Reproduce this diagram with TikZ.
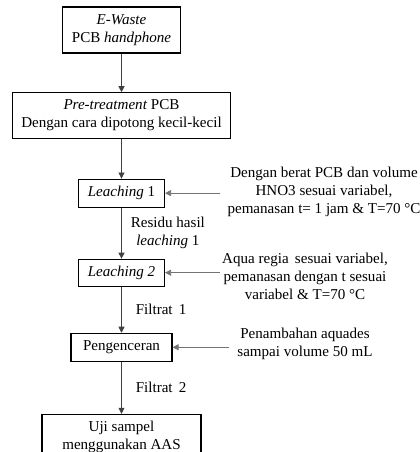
\documentclass[tikz,border=0pt]{standalone}
\usepackage{fontspec}
\setmainfont{Liberation Serif}
\usetikzlibrary{arrows.meta,positioning}

\begin{document}
\begin{tikzpicture}[
  x=0.75pt, y=-0.75pt, >={Triangle[length=4.5pt,width=4.5pt]},
  font=\fontsize{11.3}{13.5}\selectfont,
  box/.style={draw, line width=0.8pt, align=center, inner sep=2pt},
  note/.style={align=center, inner sep=0pt},
  flow/.style={->, draw=black!75, line width=0.5pt},
  feed/.style={->, draw=black!55, line width=0.5pt},
  lbl/.style={right, align=center, inner sep=0pt},
]
\useasboundingbox (0,0) rectangle (419,452);
% main chain
\node[box, minimum width=89pt, minimum height=34.5pt] (ewaste) at (121.5,30) {\textit{E-Waste}\\PCB \textit{handphone}};
\node[box, minimum width=164pt, minimum height=34pt, below=29pt of ewaste] (pretreat) {\textit{Pre-treatment} PCB\\Dengan cara dipotong kecil-kecil};
\node[box, minimum width=64.5pt, minimum height=21pt, below=30pt of pretreat] (leach1) {\textit{Leaching} 1};
\node[box, minimum width=64.5pt, minimum height=20.25pt, below=38.25pt of leach1] (leach2) {\textit{Leaching 2}};
\node[box, minimum width=75.75pt, minimum height=21pt, below=34.5pt of leach2] (dilute) {Pengenceran};
\node[box, minimum width=119.25pt, minimum height=34.5pt, below=39pt of dilute] (aas) {Uji sampel\\menggunakan AAS};
% side notes
\node[note] (note1) at (324,192) {Dengan berat PCB dan volume\\HNO3 sesuai variabel,\\pemanasan t= 1 jam \& T=70 °C};
\node[note] (note2) at (305,276) {Aqua regia\, sesuai variabel,\\pemanasan dengan t sesuai\\variabel \& T=70 °C};
\node[note] (note3) at (305,344) {Penambahan aquades\\sampai volume 50 mL};
\path (leach1.east) ++(41.25pt,0) coordinate (src1);
\path (leach2.east) ++(41.25pt,0) coordinate (src2);
\path (dilute.east) ++(42pt,0) coordinate (src3);

\draw[flow] (ewaste) -- (pretreat);
\draw[flow] (pretreat) -- (leach1);
\draw[flow] (leach1) -- node[lbl, xshift=6.75pt] {Residu hasil\\\textit{leaching} 1} (leach2);
\draw[flow] (leach2) -- node[lbl, xshift=10.5pt] {Filtrat\, 1} (dilute);
\draw[flow] (dilute) -- node[lbl, xshift=10.5pt] {Filtrat\, 2} (aas);
\draw[feed] (src1) -- (leach1.east);
\draw[feed] (src2) -- (leach2.east);
\draw[feed] (src3) -- (dilute.east);
\end{tikzpicture}
\end{document}
